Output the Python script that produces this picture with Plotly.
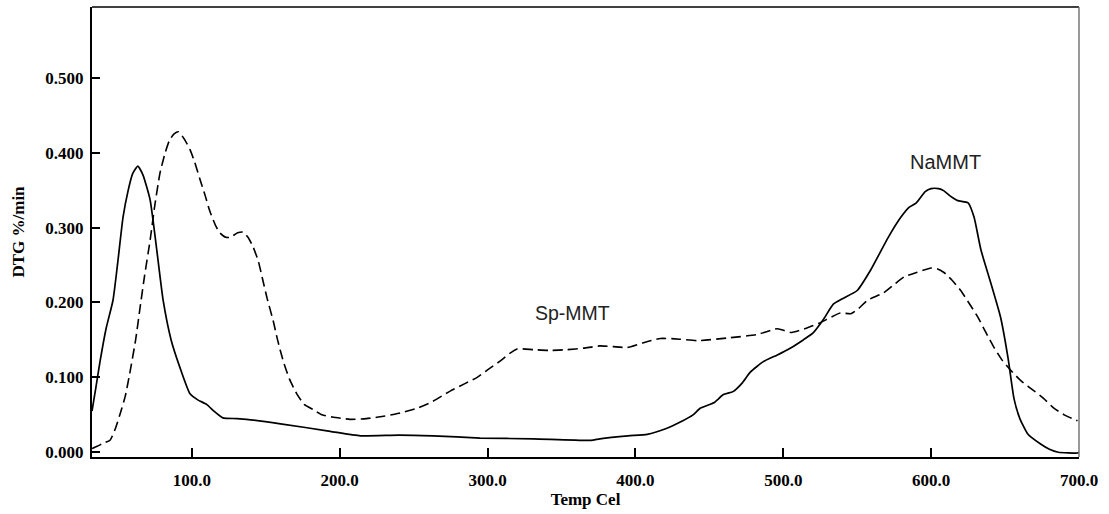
import plotly.graph_objects as go

# NaMMT (solid)
na_temp = [32.5, 35, 38, 42, 46.7, 50, 53.5, 57, 60, 63.5, 67, 71.8, 76, 80.6, 86, 92, 98.8, 104, 110, 115,
           121, 130, 137, 160, 193.6, 214, 240, 263, 295, 331, 370, 376, 395, 408, 420, 430, 439, 444, 453,
           459.5, 466, 472, 477.7, 486.5, 496, 504.7, 513.5, 520, 527, 534, 540, 550, 559, 571, 579.6, 585,
           590, 596, 600, 605, 608.7, 613, 618, 625, 629, 633.7, 640.5, 647, 652, 656, 660, 665.5, 674, 680,
           686, 699, 700]
na_dtg = [0.055, 0.085, 0.122, 0.165, 0.203, 0.255, 0.314, 0.350, 0.372, 0.382, 0.370, 0.337, 0.275, 0.203,
          0.150, 0.113, 0.078, 0.070, 0.064, 0.055, 0.046, 0.045, 0.044, 0.038, 0.028, 0.022, 0.023, 0.022,
          0.019, 0.018, 0.016, 0.018, 0.022, 0.024, 0.031, 0.040, 0.050, 0.059, 0.066, 0.077, 0.081, 0.092,
          0.107, 0.121, 0.130, 0.139, 0.150, 0.159, 0.177, 0.198, 0.205, 0.216, 0.243, 0.287, 0.314, 0.327,
          0.333, 0.348, 0.352, 0.352, 0.349, 0.342, 0.336, 0.333, 0.314, 0.270, 0.225, 0.180, 0.126, 0.072,
          0.045, 0.024, 0.011, 0.004, 0.000, -0.001, 0.000]

# Sp-MMT (dashed)
sp_temp = [32.5, 36, 40, 44.7, 48, 51.5, 55, 58, 62, 65, 68, 71.8, 75, 78.5, 82, 85, 88, 91, 95, 98.8, 102,
           105.6, 109, 112, 116, 119, 123, 126, 131, 134.7, 138, 141.5, 145, 148, 151, 155, 158, 161.8, 166,
           171, 176, 182, 188, 195, 207, 218, 229.5, 240, 252.5, 262, 275, 285, 293, 300, 308.7, 315, 320,
           331, 342, 354, 365, 376, 385, 394.7, 405, 417, 430, 442, 464, 482, 496, 505, 516, 525, 538.5,
           545.7, 551, 557, 568, 575, 581.6, 590, 600, 604, 608.7, 614, 620, 626, 631.7, 637, 642.5, 648,
           654, 661, 669.6, 676, 683, 690, 699]
sp_dtg = [0.005, 0.008, 0.012, 0.016, 0.030, 0.051, 0.075, 0.105, 0.150, 0.193, 0.235, 0.283, 0.330, 0.373,
          0.400, 0.417, 0.425, 0.428, 0.418, 0.404, 0.387, 0.364, 0.343, 0.323, 0.303, 0.293, 0.287, 0.287,
          0.293, 0.294, 0.287, 0.274, 0.255, 0.230, 0.205, 0.176, 0.150, 0.122, 0.098, 0.078, 0.064, 0.057,
          0.050, 0.047, 0.044, 0.045, 0.048, 0.052, 0.059, 0.067, 0.082, 0.092, 0.100, 0.110, 0.122, 0.132,
          0.138, 0.137, 0.136, 0.137, 0.139, 0.142, 0.141, 0.140, 0.146, 0.152, 0.151, 0.149, 0.153, 0.157,
          0.165, 0.160, 0.166, 0.173, 0.186, 0.185, 0.192, 0.203, 0.213, 0.224, 0.234, 0.240, 0.246, 0.245,
          0.240, 0.230, 0.216, 0.198, 0.180, 0.160, 0.140, 0.123, 0.109, 0.095, 0.082, 0.072, 0.059, 0.050,
          0.042]

x_ticks = [100, 200, 300, 400, 500, 600, 700]
y_ticks = [0.0, 0.1, 0.2, 0.3, 0.4, 0.5]

fig = go.Figure()
fig.add_trace(go.Scatter(x=na_temp, y=na_dtg, mode="lines", name="NaMMT",
                         line=dict(color="black", width=1.7, shape="spline", smoothing=0.5)))
fig.add_trace(go.Scatter(x=sp_temp, y=sp_dtg, mode="lines", name="Sp-MMT",
                         line=dict(color="black", width=1.6, dash="10px,5px", shape="spline", smoothing=0.5)))

tick_font = dict(family="Liberation Serif", size=17, color="black", weight="bold")

fig.update_layout(
    width=1109, height=514,
    margin=dict(l=92, r=30, t=7, b=57),
    paper_bgcolor="white", plot_bgcolor="white",
    showlegend=False,
    font=dict(family="Liberation Serif", color="black"),
    xaxis=dict(range=[32.5, 700], tickvals=x_ticks, ticktext=[f"{v:.1f}" for v in x_ticks],
               ticks="inside", ticklen=9, tickwidth=2, tickcolor="black",
               showline=True, linecolor="black", linewidth=2, showgrid=False, zeroline=False,
               ticklabelstandoff=7,
               tickfont=tick_font,
               title=dict(text="<b>Temp Cel</b>", font=dict(family="Liberation Serif", size=17), standoff=4)),
    yaxis=dict(range=[-0.0063, 0.5945], tickvals=y_ticks, ticktext=[f"{v:.3f}" for v in y_ticks],
               ticks="inside", ticklen=8, tickwidth=2, tickcolor="black",
               showline=True, linecolor="black", linewidth=2, showgrid=False, zeroline=False,
               ticklabelstandoff=3,
               tickfont=tick_font,
               title=dict(text="<b>DTG %/min</b>", font=dict(family="Liberation Serif", size=17), standoff=16)),
    shapes=[
        dict(type="line", xref="paper", yref="paper", x0=0, x1=1, y0=1, y1=1,
             line=dict(color="black", width=1.5)),
        dict(type="line", xref="paper", yref="paper", x0=1, x1=1, y0=0, y1=1,
             line=dict(color="#777777", width=1.5)),
    ],
    annotations=[
        dict(x=609.5, y=0.388, text="NaMMT", showarrow=False,
             font=dict(family="Liberation Sans", size=20, color="#222222")),
        dict(x=357.4, y=0.186, text="Sp-MMT", showarrow=False,
             font=dict(family="Liberation Sans", size=19.5, color="#222222")),
    ],
)

fig.write_html("out.html")
